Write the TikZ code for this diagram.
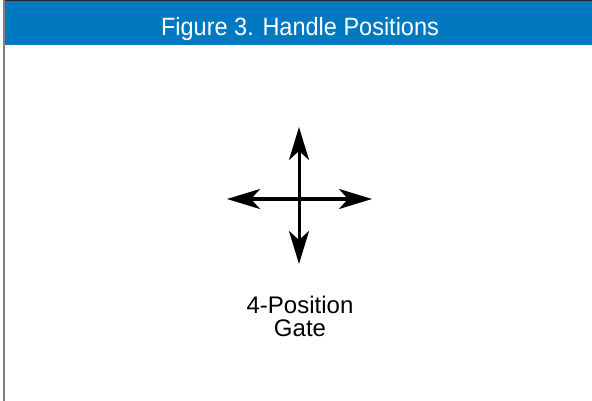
\documentclass[tikz,border=0pt]{standalone}
\usepackage{fontspec}
\setmainfont{Liberation Sans}
\newfontfamily\headfont[FakeStretch=0.94]{Liberation Sans}
\usetikzlibrary{arrows.meta}
\definecolor{headblue}{RGB}{0,121,193}
\begin{document}
\begin{tikzpicture}[
        x=1pt, y=-1pt,
        handle/.style={
            line width=3pt,
            -{Stealth[length=33pt, width=20pt, inset=9pt]}
        },
        caption/.style={
            align=center,
            font=\fontsize{24}{23}\selectfont
        }
    ]
        \useasboundingbox (0,0) rectangle (592,401);
        % Intestazione
        \fill[headblue] (4,0) rectangle (592,45);
        \draw[line width=1.5pt, black!85] (4,0.75) -- (592,0.75);
        \draw[line width=2pt, gray] (4,0) -- (4,401);
        \node[text=white, font=\headfont\fontsize{25}{25}\selectfont] (title) at (300,29) {Figure 3. Handle Positions};

        % Posizioni della leva
        \coordinate (c) at (299,199);
        \coordinate (up) at (299,127);
        \coordinate (down) at (299,264);
        \coordinate (left) at (227,199);
        \coordinate (right) at (372,199);
        \foreach \d in {up, down, left, right} {
            \draw[handle] (c) -- (\d);
        }

        % Etichetta
        \node[caption] (gate) at (300,316) {4-Position\\Gate};
\end{tikzpicture}
\end{document}
